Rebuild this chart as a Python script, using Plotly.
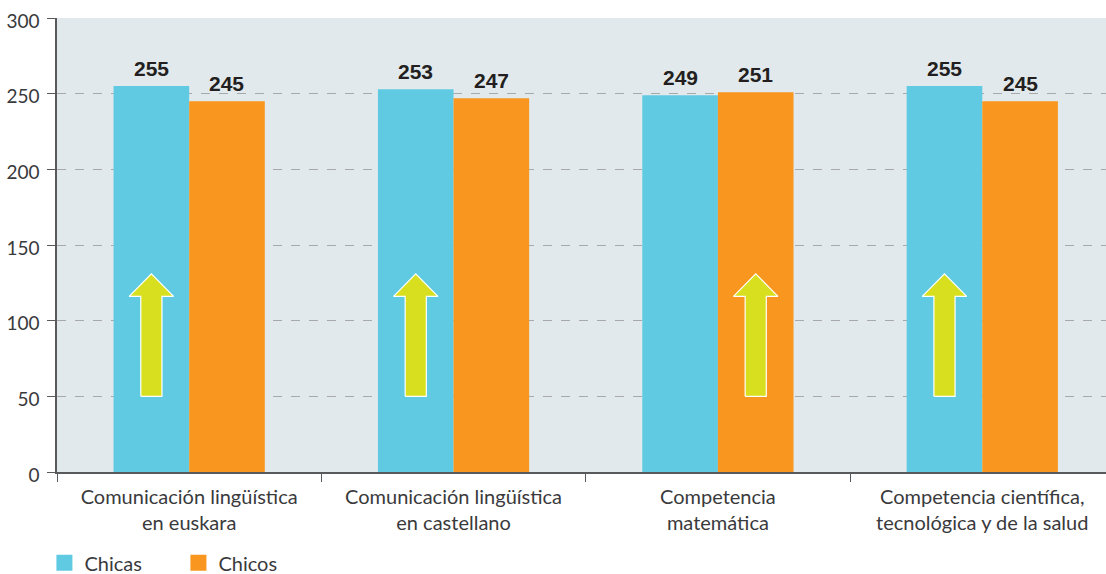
import plotly.graph_objects as go

categories = ["Comunicación lingüística<br>en euskara", "Comunicación lingüística<br>en castellano",
              "Competencia<br>matemática", "Competencia científica,<br>tecnológica y de la salud"]
chicas = [255, 253, 249, 255]
chicos = [245, 247, 251, 245]
y_ticks = [0, 50, 100, 150, 200, 250, 300]
arrow_base = 50
arrow_tip = 131
arrow_neck = 116

positions = list(range(len(categories)))
boundaries = [-0.5, 0.5, 1.5, 2.5, 3.5]
BAR_WIDTH = 0.286
HEAD = 0.084
SHAFT = 0.04
FONT = "Lato"
TEXT = "#3a3a3c"
BLUE = "#5fcae2"
ORANGE = "#f9961f"

fig = go.Figure()
fig.add_bar(x=positions, y=chicas, name="Chicas", marker=dict(color=BLUE, line_width=0), showlegend=False)
fig.add_bar(x=positions, y=chicos, name="Chicos", marker=dict(color=ORANGE, line_width=0), showlegend=False)

# Value labels above each bar
for i in positions:
    for values, off in ((chicas, -BAR_WIDTH / 2), (chicos, BAR_WIDTH / 2)):
        fig.add_annotation(x=i + off, y=values[i], text=str(values[i]), showarrow=False,
                           yanchor="bottom", yshift=4,
                           font=dict(family="Liberation Sans", size=21, color="#231f20", weight="bold"))

# Arrows sit on the higher bar of each pair
for i in positions:
    c = i - BAR_WIDTH / 2 if chicas[i] > chicos[i] else i + BAR_WIDTH / 2
    xs = [c - SHAFT, c - SHAFT, c - HEAD, c, c + HEAD, c + SHAFT, c + SHAFT, c - SHAFT]
    ys = [arrow_base, arrow_neck, arrow_neck, arrow_tip, arrow_neck, arrow_neck, arrow_base, arrow_base]
    fig.add_scatter(x=xs, y=ys, mode="lines", fill="toself", fillcolor="#d7df1e",
                    line=dict(color="white", width=1.2), showlegend=False, hoverinfo="skip")

# Legend keys
for name, color in [("Chicas", BLUE), ("Chicos", ORANGE)]:
    fig.add_scatter(x=[None], y=[None], mode="markers", name=name,
                    marker=dict(symbol="square", size=16, color=color))

fig.update_layout(
    width=1106, height=574, barmode="group", bargap=0.428, bargroupgap=0,
    margin=dict(l=56.5, r=0, t=18, b=102, autoexpand=False),
    paper_bgcolor="white", plot_bgcolor="#e1e9ec",
    font=dict(family=FONT, size=20, color=TEXT),
    legend=dict(orientation="h", x=-0.012, xanchor="left", y=-0.2, yanchor="middle",
                entrywidth=89, entrywidthmode="pixels", font=dict(family=FONT, size=20, color=TEXT),
                traceorder="normal", bgcolor="rgba(0,0,0,0)"),
    xaxis=dict(range=[-0.5, 3.468], tickvals=positions, ticktext=categories, ticks="", showgrid=False,
               zeroline=False, showline=True, linecolor="#58595b", linewidth=1.5, ticklabelstandoff=6,
               tickfont=dict(family=FONT, size=20, color=TEXT),
               minor=dict(tickvals=boundaries, ticks="outside", ticklen=8, tickwidth=1, tickcolor="#58595b", showgrid=False)),
    yaxis=dict(range=[0, 300], tickvals=y_ticks, ticks="outside", ticklen=8, tickwidth=1, tickcolor="#58595b",
               showline=True, linecolor="#58595b", linewidth=1.5, zeroline=False,
               gridcolor="#a7a9ac", griddash="dash", gridwidth=1, ticklabelstandoff=4, ticklabelshift=3,
               tickfont=dict(family=FONT, size=19, color=TEXT)),
)
fig.write_html("out.html", config=dict(displayModeBar=False),
               post_script="document.body.style.margin='0';document.documentElement.style.overflow='hidden';")
